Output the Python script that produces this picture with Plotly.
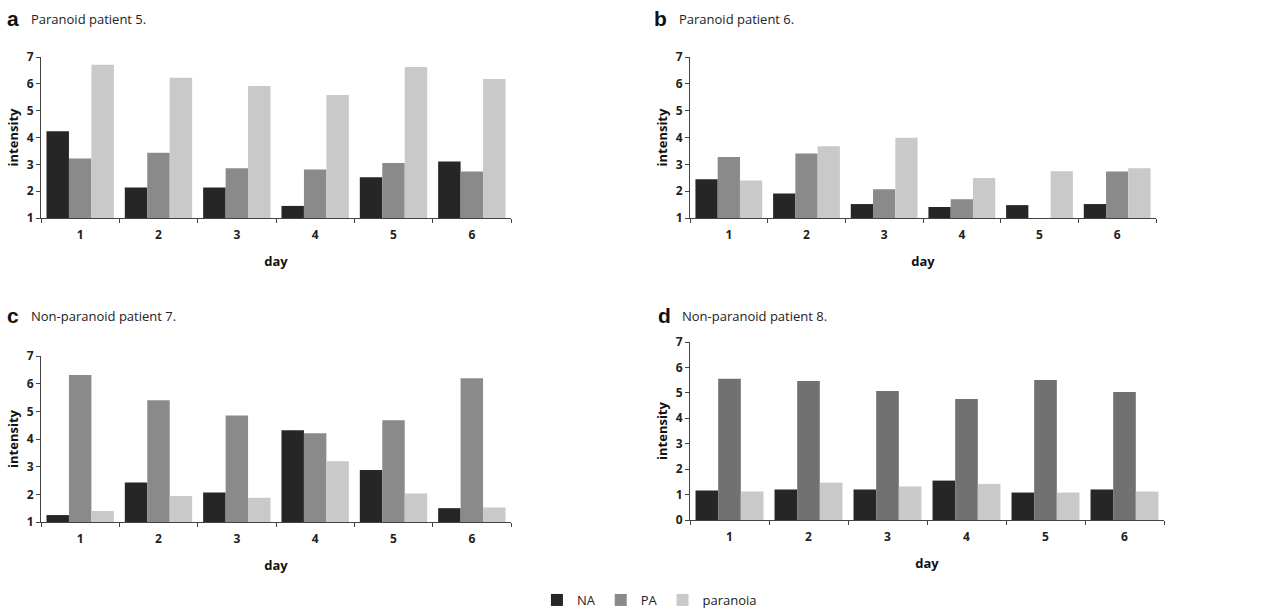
import plotly.graph_objects as go

days = ["1", "2", "3", "4", "5", "6"]
series_names = ["NA", "PA", "paranoia"]

panel_letters = ["a", "b", "c", "d"]
panel_titles = ["Paranoid patient 5.", "Paranoid patient 6.",
                "Non-paranoid patient 7.", "Non-paranoid patient 8."]

# values per panel
a_NA = [4.23, 2.14, 2.14, 1.45, 2.52, 3.11]
a_PA = [3.22, 3.43, 2.85, 2.81, 3.05, 2.73]
a_par = [6.71, 6.23, 5.92, 5.58, 6.63, 6.18]

b_NA = [2.44, 1.91, 1.52, 1.41, 1.48, 1.52]
b_PA = [3.27, 3.40, 2.07, 1.70, None, 2.73]
b_par = [2.40, 3.67, 3.99, 2.49, 2.74, 2.85]

c_NA = [1.25, 2.43, 2.07, 4.32, 2.88, 1.50]
c_PA = [6.31, 5.40, 4.85, 4.21, 4.68, 6.20]
c_par = [1.40, 1.94, 1.88, 3.20, 2.03, 1.52]

d_NA = [1.16, 1.20, 1.20, 1.55, 1.08, 1.20]
d_PA = [5.55, 5.47, 5.07, 4.76, 5.51, 5.03]
d_par = [1.12, 1.47, 1.32, 1.42, 1.08, 1.12]

y_ranges = [[1, 7], [1, 7], [1, 7], [0, 7]]

W, H = 1286, 614

# plot areas in pixels (x0, x1, ytop, ybottom)
areas = [(41, 511, 57, 218), (690, 1156, 57, 218),
         (41, 511, 356, 522), (690, 1164, 342, 520)]
colors = [["#262626", "#8a8a8a", "#c9c9c9"]] * 3 + [["#262626", "#717171", "#c9c9c9"]]
data = [(a_NA, a_PA, a_par), (b_NA, b_PA, b_par), (c_NA, c_PA, c_par), (d_NA, d_PA, d_par)]

fig = go.Figure()
layout = dict(
    width=W, height=H, margin=dict(l=0, r=0, t=0, b=0, autoexpand=False),
    paper_bgcolor="white", plot_bgcolor="white",
    barmode="group", showlegend=True,
    font=dict(family="Open Sans, Liberation Sans, sans-serif", color="#222"),
    legend=dict(orientation="h", x=0.505, xanchor="center", y=1 - 600 / H, yanchor="middle",
                font=dict(size=13, color="#222"), itemwidth=30, tracegroupgap=0,
                traceorder="normal"),
)
annotations = []
tick_font = dict(family="Open Sans, Liberation Sans, sans-serif", size=12, color="#222", weight="bold")
title_font = dict(family="Open Sans, Liberation Sans, sans-serif", size=13, color="#111", weight="bold")

for i in range(4):
    sfx = "" if i == 0 else str(i + 1)
    x0, x1, yt, yb = areas[i]
    for j, name in enumerate(series_names):
        fig.add_trace(go.Bar(
            x=days, y=data[i][j], name=name, marker=dict(color=colors[i][j], line=dict(width=0)),
            xaxis="x" + sfx, yaxis="y" + sfx, legendgroup=name, showlegend=(i == 0),
            offsetgroup=str(j),
        ))
    layout["xaxis" + sfx] = dict(
        domain=[x0 / W, x1 / W], anchor="y" + sfx, showline=True, linecolor="#444", linewidth=1,
        ticks="outside", ticklen=4, tickcolor="#444", tickson="boundaries",
        tickfont=tick_font, showgrid=False, zeroline=False, fixedrange=True,
        ticklabelstandoff=6,
        title=dict(text="day", font=title_font, standoff=14),
    )
    layout["yaxis" + sfx] = dict(
        domain=[1 - yb / H, 1 - yt / H], anchor="x" + sfx, range=y_ranges[i], dtick=1,
        showline=True, linecolor="#444", linewidth=1, ticks="outside", ticklen=4,
        tickcolor="#444", tickfont=tick_font, showgrid=False, zeroline=False,
        fixedrange=True,
        title=dict(text="intensity", font=title_font, standoff=5),
    )
    # panel title
    lx = [13, 661, 13, 664][i]
    ly = [18, 18, 315, 315][i]
    annotations.append(dict(x=lx / W, y=1 - ly / H, xref="paper", yref="paper",
                            text=f"<b>{panel_letters[i]}</b>", showarrow=False,
                            xanchor="center", yanchor="middle",
                            font=dict(family="Liberation Sans, Arial, sans-serif", size=21, color="#111")))
    annotations.append(dict(x=(lx + 16) / W, y=1 - (ly + 1) / H, xref="paper", yref="paper",
                            text=panel_titles[i], showarrow=False,
                            xanchor="left", yanchor="middle",
                            font=dict(family="Open Sans, sans-serif", size=13, color="#222")))

layout["bargap"] = 0.14
layout["bargroupgap"] = 0
layout["annotations"] = annotations
fig.update_layout(**layout)
fig.write_html("out.html", config={"displayModeBar": False},
               post_script="document.body.style.margin='0';document.body.style.overflow='hidden';")
